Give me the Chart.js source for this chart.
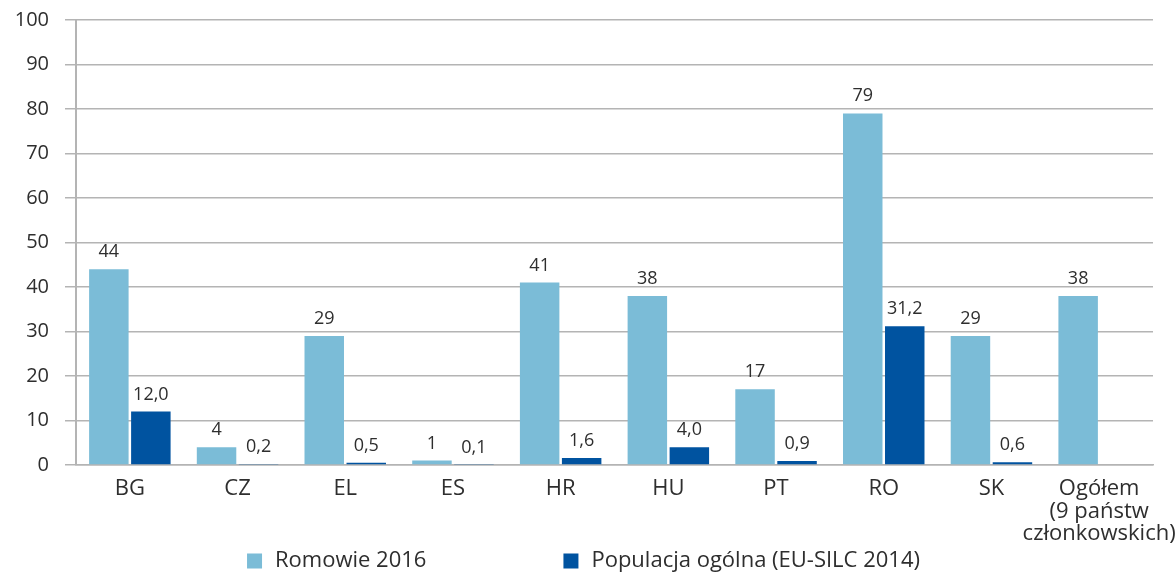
<!DOCTYPE html>
<html>
<head>
<meta charset="utf-8">
<script src="https://cdn.jsdelivr.net/npm/chart.js@4/dist/chart.umd.min.js"></script>
<style>
  html, body { margin: 0; padding: 0; background: #fff; }
  #wrap { width: 1175px; height: 573px; position: relative; }
</style>
</head>
<body>
<div id="wrap"><canvas id="romaChart"></canvas></div>
<script>
// ==========================
// Data
// ==========================
const categories = ['BG', 'CZ', 'EL', 'ES', 'HR', 'HU', 'PT', 'RO', 'SK', ['Ogółem', '(9 państw', 'członkowskich)']];
const romaValues = [44, 4, 29, 1, 41, 38, 17, 79, 29, 38];
const generalValues = [12.0, 0.2, 0.5, 0.1, 1.6, 4.0, 0.9, 31.2, 0.6, null];
const seriesNames = ['Romowie 2016', 'Populacja ogólna (EU-SILC 2014)'];
const yTicks = [0, 10, 20, 30, 40, 50, 60, 70, 80, 90, 100];

const FONT = "'Open Sans', 'DejaVu Sans', sans-serif";
const TEXT = '#2e2e2e';
const GRID = '#b4b4b4';

// ==========================
// Value labels above bars
// ==========================
const valueLabels = {
  id: 'valueLabels',
  afterDatasetsDraw(chart) {
    const ctx = chart.ctx;
    ctx.save();
    ctx.font = '18px ' + FONT;
    ctx.fillStyle = TEXT;
    ctx.textAlign = 'center';
    ctx.textBaseline = 'alphabetic';
    chart.data.datasets.forEach((ds, di) => {
      chart.getDatasetMeta(di).data.forEach((bar, i) => {
        const v = ds.data[i];
        if (v === null) return;
        const txt = di === 0 ? String(v) : v.toFixed(1).replace('.', ',');
        ctx.fillText(txt, bar.x, bar.y - 12);
      });
    });
    ctx.restore();
  }
};

// ==========================
// Legend at the bottom
// ==========================
const bottomLegend = {
  id: 'bottomLegend',
  afterDraw(chart) {
    const ctx = chart.ctx;
    const box = 15, textGap = 13, itemGap = 137;
    ctx.save();
    ctx.font = '22px ' + FONT;
    const widths = chart.data.datasets.map(ds => box + textGap + ctx.measureText(ds.label).width);
    const total = widths.reduce((a, b) => a + b, 0) + itemGap * (widths.length - 1);
    let x = chart.width / 2 - 4 - total / 2;
    const cy = chart.height - 12;
    chart.data.datasets.forEach((ds, i) => {
      ctx.fillStyle = ds.backgroundColor;
      ctx.fillRect(x, cy - box / 2, box, box);
      ctx.fillStyle = TEXT;
      ctx.textAlign = 'left';
      ctx.textBaseline = 'middle';
      ctx.fillText(ds.label, x + box + textGap, cy);
      x += widths[i] + itemGap;
    });
    ctx.restore();
  }
};

new Chart(document.getElementById('romaChart').getContext('2d'), {
  type: 'bar',
  data: {
    labels: categories,
    datasets: [
      {
        label: seriesNames[0],
        data: romaValues,
        backgroundColor: '#7bbcd7',
        categoryPercentage: 0.78,
        barPercentage: 0.94
      },
      {
        label: seriesNames[1],
        data: generalValues,
        backgroundColor: '#0053a0',
        categoryPercentage: 0.78,
        barPercentage: 0.94
      }
    ]
  },
  options: {
    responsive: true,
    maintainAspectRatio: false,
    animation: false,
    layout: { padding: { left: 0, right: 22, top: 20, bottom: 28 } },
    plugins: {
      legend: { display: false },
      tooltip: { enabled: false }
    },
    scales: {
      x: {
        grid: { display: false, drawTicks: false },
        border: { display: true, color: GRID, width: 1.5 },
        ticks: {
          color: TEXT,
          font: { family: FONT, size: 22, lineHeight: 1.02 },
          padding: 13,
          autoSkip: false,
          maxRotation: 0
        },
        afterFit(scale) {
          scale.height = 80;
          scale.paddingLeft = 0;
          scale.paddingRight = 0;
        }
      },
      y: {
        min: 0,
        max: 100,
        afterBuildTicks(scale) { scale.ticks = yTicks.map(v => ({ value: v })); },
        grid: { color: GRID, lineWidth: 1.5, tickLength: 11 },
        border: { display: true, color: GRID, width: 2 },
        ticks: {
          color: TEXT,
          font: { family: FONT, size: 20 },
          padding: 16
        },
        afterFit(scale) {
          scale.width = 76;
          scale.paddingTop = 0;
          scale.paddingBottom = 0;
        }
      }
    }
  },
  plugins: [valueLabels, bottomLegend]
});
</script>
</body>
</html>
